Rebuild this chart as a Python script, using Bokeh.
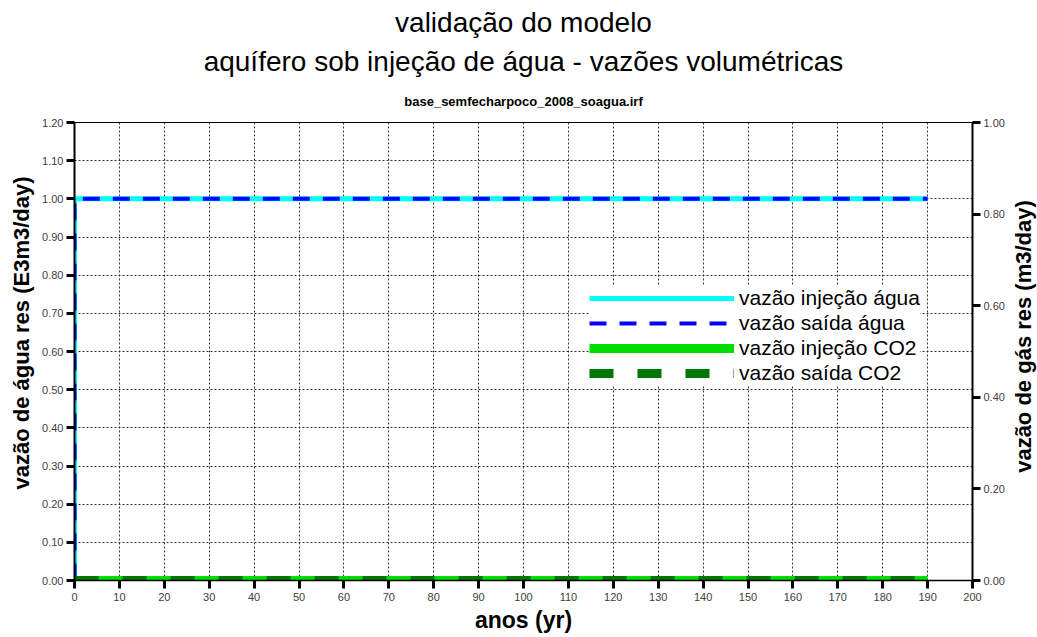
import math
from bokeh.plotting import figure
from bokeh.models import (Range1d, LinearAxis, FixedTicker, Title, Legend, LegendItem,
                          NumeralTickFormatter, Label)
from bokeh.embed import file_html
from bokeh.resources import INLINE

# ---- data ----
anos = [0, 0, 190]
vazao_injecao_agua = [0.0, 1.0, 1.0]      # E3m3/day (left axis)
vazao_saida_agua = [0.0, 1.0, 1.0]        # E3m3/day (left axis)
anos_co2 = [0, 190]
vazao_injecao_co2 = [0.0, 0.0]            # m3/day (right axis)
vazao_saida_co2 = [0.0, 0.0]              # m3/day (right axis)

x_ticks = list(range(0, 201, 10))
y_left_ticks = [round(i * 0.1, 2) for i in range(0, 13)]
y_right_ticks = [0.0, 0.2, 0.4, 0.6, 0.8, 1.0]

FONT = "Liberation Sans"

p = figure(width=1037, height=637, output_backend="svg", toolbar_location=None,
           x_range=Range1d(0, 200), y_range=Range1d(0, 1.2),
           min_border_left=74, min_border_right=65, min_border_top=121, min_border_bottom=57,
           x_axis_location=None, y_axis_location=None)
p.extra_y_ranges = {"gas": Range1d(0, 1.0)}
p.background_fill_color = "white"
p.border_fill_color = "white"
p.outline_line_color = "black"
p.outline_line_width = 1

# titles (added from nearest to farthest)
p.add_layout(Title(text="base_semfecharpoco_2008_soagua.irf", align="center",
                   text_font=FONT, text_font_size="13px", text_font_style="bold",
                   text_color="black", standoff=27), "above")
p.add_layout(Title(text="aquífero sob injeção de água - vazões volumétricas", align="center",
                   text_font=FONT, text_font_size="28px", text_font_style="normal",
                   text_color="black", standoff=4), "above")
p.add_layout(Title(text="validação do modelo", align="center",
                   text_font=FONT, text_font_size="28px", text_font_style="normal",
                   text_color="black", standoff=8), "above")

def style_axis(ax):
    ax.major_label_text_font = FONT
    ax.major_label_text_font_size = "11px"
    ax.major_label_text_color = "#404040"
    ax.axis_line_color = "black"
    ax.axis_line_width = 2
    ax.major_tick_line_color = "black"
    ax.major_tick_line_width = 3
    ax.major_tick_out = 8
    ax.major_tick_in = 0
    ax.minor_tick_line_color = None

xaxis = LinearAxis(ticker=FixedTicker(ticks=x_ticks))
style_axis(xaxis)
xaxis.axis_label = "anos (yr)"
xaxis.axis_label_text_font = FONT
xaxis.axis_label_text_font_size = "23px"
xaxis.axis_label_text_font_style = "bold"
xaxis.axis_label_text_color = "black"
xaxis.axis_line_width = 1.5
xaxis.major_label_standoff = 4
xaxis.axis_label_standoff = 3
p.add_layout(xaxis, "below")

yaxis = LinearAxis(ticker=FixedTicker(ticks=y_left_ticks),
                   formatter=NumeralTickFormatter(format="0.00"))
style_axis(yaxis)
yaxis.major_label_standoff = 3
p.add_layout(yaxis, "left")

yaxis2 = LinearAxis(y_range_name="gas", ticker=FixedTicker(ticks=y_right_ticks),
                    formatter=NumeralTickFormatter(format="0.00"))
style_axis(yaxis2)
yaxis2.major_label_standoff = 3
p.add_layout(yaxis2, "right")

# left vertical axis title (reads bottom-to-top), placed outside the axis
p.add_layout(Title(text="vazão de água res (E3m3/day)", align="left", offset=91,
                   text_font=FONT, text_font_size="22px", text_font_style="bold",
                   text_color="black", standoff=12), "left")

# right vertical axis title (reads bottom-to-top)
p.add_layout(Label(x=16, y=580 - 336, x_units="screen", y_units="screen",
                   text="vazão de gás res (m3/day)", angle=math.pi / 2,
                   text_align="center", text_baseline="middle",
                   text_font=FONT, text_font_size="22px", text_font_style="bold",
                   text_color="black"), "right")

p.xgrid.ticker = FixedTicker(ticks=x_ticks)
p.ygrid.ticker = FixedTicker(ticks=y_left_ticks)
for g in (p.xgrid, p.ygrid):
    g.grid_line_color = "#333333"
    g.grid_line_dash = "2 2"
    g.grid_line_width = 1

r1 = p.line(anos, vazao_injecao_agua, line_color="#00ffff", line_width=5)
r2 = p.line(anos, vazao_saida_agua, line_color="#0000ff", line_width=4, line_dash="17 13")
r3 = p.line(anos_co2, vazao_injecao_co2, line_color="#00dd00", line_width=9, y_range_name="gas")
r4 = p.line(anos_co2, vazao_saida_co2, line_color="#007700", line_width=9, line_dash="24 24",
            y_range_name="gas")

legend = Legend(items=[LegendItem(label="vazão injeção água", renderers=[r1]),
                       LegendItem(label="vazão saída água", renderers=[r2]),
                       LegendItem(label="vazão injeção CO2", renderers=[r3]),
                       LegendItem(label="vazão saída CO2", renderers=[r4])],
                location=(515, 195))
legend.border_line_color = None
legend.background_fill_color = "white"
legend.background_fill_alpha = 1
legend.label_text_font = FONT
legend.label_text_font_size = "21px"
legend.label_text_color = "black"
legend.glyph_width = 145
legend.glyph_height = 20
legend.label_height = 20
legend.spacing = 1
legend.padding = 4
legend.margin = 0
legend.label_standoff = 5
p.add_layout(legend, "center")

open("out.html", "w").write(file_html(p, INLINE))
